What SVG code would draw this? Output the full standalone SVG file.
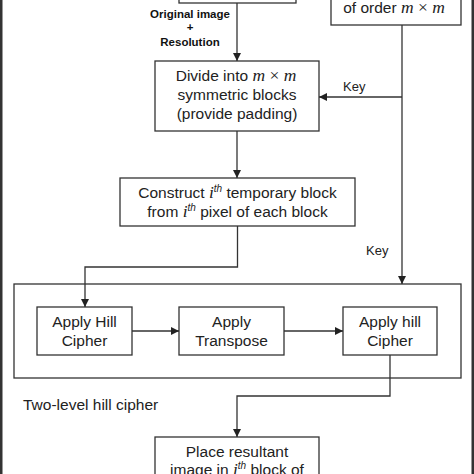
<svg xmlns="http://www.w3.org/2000/svg" width="474" height="474" viewBox="0 0 474 474">
<defs>
<marker id="ah" viewBox="0 0 10 10" refX="10" refY="5" markerWidth="8" markerHeight="8" markerUnits="userSpaceOnUse" orient="auto">
<path d="M0,0 L10,5 L0,10 Z" fill="#222"/>
</marker>
<style>
.box{fill:#fff;stroke:#333;stroke-width:1.3}
.t{font-family:"Liberation Sans",Arial,sans-serif;font-size:15.5px;fill:#222;text-anchor:middle}
.k{font-family:"Liberation Sans",Arial,sans-serif;font-size:13px;fill:#222}
.b{font-family:"Liberation Sans",Arial,sans-serif;font-size:11.5px;font-weight:bold;fill:#111;text-anchor:middle}
.m{font-family:"Liberation Serif","Times New Roman",serif;font-style:italic;font-size:17.5px}
.x{font-family:"Liberation Serif","Times New Roman",serif;font-size:17.5px}
.c{fill:none;stroke:#333;stroke-width:1.3}
</style>
</defs>
<rect x="0" y="0" width="474" height="474" fill="#fff"/>
<rect x="0" y="0" width="2.5" height="474" fill="#333"/>
<rect x="471.5" y="0" width="2.5" height="474" fill="#333"/>

<g id="outer">
<rect class="box" x="14" y="284" width="447" height="94" fill="none"/>
<text class="t" x="23" y="410" style="text-anchor:start">Two-level hill cipher</text>
</g>

<g id="input">
<rect class="box" x="179" y="-20" width="117" height="23"/>
</g>
<g id="keygen">
<rect class="box" x="331" y="-20" width="130" height="45"/>
<text class="t" x="394" y="13">of order  <tspan class="m">m</tspan><tspan class="x"> × </tspan><tspan class="m">m</tspan></text>
</g>
<g id="divide">
<rect class="box" x="155" y="61" width="164" height="70"/>
<text class="t" x="236" y="80.5">Divide into  <tspan class="m">m</tspan><tspan class="x"> × </tspan><tspan class="m">m</tspan></text>
<text class="t" x="237" y="99.5">symmetric blocks</text>
<text class="t" x="237" y="118.5">(provide padding)</text>
</g>
<g id="construct">
<rect class="box" x="120" y="178" width="235" height="48"/>
<text class="t" x="237.5" y="198">Construct <tspan class="m" font-size="16">i</tspan><tspan font-size="10" dy="-6" font-style="italic">th</tspan><tspan dy="6"> temporary block</tspan></text>
<text class="t" x="237.5" y="216.5">from <tspan class="m" font-size="16">i</tspan><tspan font-size="10" dy="-6" font-style="italic">th</tspan><tspan dy="6"> pixel of each block</tspan></text>
</g>
<g id="hill1">
<rect class="box" x="37" y="307" width="95" height="48"/>
<text class="t" x="84.5" y="327">Apply Hill</text>
<text class="t" x="84.5" y="346">Cipher</text>
</g>
<g id="transpose">
<rect class="box" x="179" y="307" width="105" height="48"/>
<text class="t" x="231.5" y="327">Apply</text>
<text class="t" x="231.5" y="346">Transpose</text>
</g>
<g id="hill2">
<rect class="box" x="343" y="307" width="94" height="48"/>
<text class="t" x="390" y="327">Apply hill</text>
<text class="t" x="390" y="346">Cipher</text>
</g>
<g id="place">
<rect class="box" x="155" y="437" width="164" height="60"/>
<text class="t" x="237" y="456.5">Place resultant</text>
<text class="t" x="237" y="475">image in <tspan class="m" font-size="16">i</tspan><tspan font-size="10" dy="-6" font-style="italic">th</tspan><tspan dy="6"> block of</tspan></text>
</g>

<g id="connectors">
<line class="c" x1="237" y1="3" x2="237" y2="61" marker-end="url(#ah)"/>
<text class="b" x="190" y="18">Original image</text>
<text class="b" x="190" y="31">+</text>
<text class="b" x="190" y="46">Resolution</text>
<line class="c" x1="402" y1="25" x2="402" y2="284" marker-end="url(#ah)"/>
<line class="c" x1="402" y1="97" x2="319" y2="97" marker-end="url(#ah)"/>
<text class="k" x="343" y="91">Key</text>
<text class="k" x="366" y="255">Key</text>
<line class="c" x1="237" y1="131" x2="237" y2="178" marker-end="url(#ah)"/>
<polyline class="c" points="237.5,226 237.5,267 85,267 85,307" marker-end="url(#ah)"/>
<line class="c" x1="132" y1="331" x2="179" y2="331" marker-end="url(#ah)"/>
<line class="c" x1="284" y1="331" x2="343" y2="331" marker-end="url(#ah)"/>
<polyline class="c" points="390,355 390,396 237,396 237,437" marker-end="url(#ah)"/>
</g>
</svg>
